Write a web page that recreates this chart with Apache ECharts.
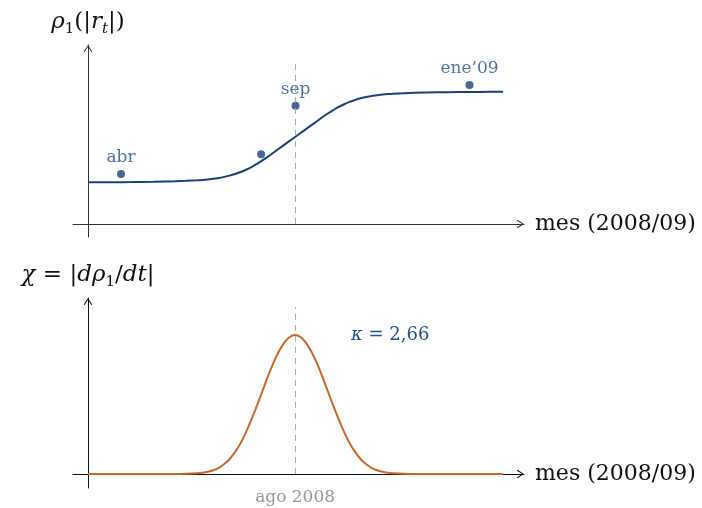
<!DOCTYPE html>
<html>
<head>
<meta charset="utf-8">
<script src="https://cdn.jsdelivr.net/npm/echarts@6/dist/echarts.min.js"></script>
<style>html,body{margin:0;padding:0;background:#fff}#c{width:702px;height:508px}</style>
</head>
<body>
<div id="c"></div>
<script>
// shared time grid (schematic months)
const T = [0, 0.5, 1, 1.5, 2, 2.25,
  2.5, 2.625, 2.75, 2.875, 3, 3.125, 3.25, 3.375, 3.5, 3.625, 3.75, 3.875, 4, 4.125, 4.25, 4.375, 4.5, 4.625,
  4.75, 4.875, 5, 5.125, 5.25, 5.375, 5.5, 5.625, 5.75, 5.875, 6, 6.125, 6.25, 6.375, 6.5, 6.625, 6.75, 6.875, 7,
  7.25, 7.5, 8, 8.5, 9, 9.52];
// rho_1(|r_t|) curve
const rho = [0.233, 0.233, 0.234, 0.236, 0.239, 0.241,
  0.244, 0.246, 0.249, 0.253, 0.257, 0.263, 0.270, 0.279, 0.290, 0.303, 0.318, 0.336, 0.355, 0.376, 0.398, 0.420, 0.442, 0.464,
  0.486, 0.508, 0.530, 0.552, 0.574, 0.596, 0.617, 0.636, 0.654, 0.669, 0.682, 0.693, 0.702, 0.709, 0.715, 0.719, 0.723, 0.726, 0.728,
  0.731, 0.733, 0.736, 0.737, 0.738, 0.739];
// chi = |d rho / dt|
const chi = [0, 0, 0, 0, 0, 0.001,
  0.004, 0.007, 0.012, 0.021, 0.035, 0.056, 0.085, 0.125, 0.175, 0.238, 0.310, 0.388, 0.470, 0.553, 0.630, 0.695, 0.745, 0.778,
  0.790, 0.778, 0.745, 0.695, 0.630, 0.553, 0.470, 0.388, 0.310, 0.238, 0.175, 0.125, 0.085, 0.056, 0.035, 0.021, 0.012, 0.007, 0.004,
  0.001, 0, 0, 0, 0, 0];
// observed points
const ptLabels = ['abr', '', 'sep', 'ene\u201909'];
const ptX = [0.757, 3.97, 4.76, 8.75];
const ptY = [0.279, 0.389, 0.661, 0.777];
// event
const eventX = 4.75;
const eventLabel = 'ago 2008';
const kappaText = '2,66';
const kappaPos = [6.93, 0.79];

const SERIF = 'DejaVu Serif';
const BLUE = '#1b4275';
const LBLUE = '#24508c';
const ORANGE = '#c8692b';
const arrowPath = 'path://M0,9 L6,0 L12,9 L10.6,9.8 L6,2.6 L1.4,9.8 Z';

function axisLineCfg(color) {
  return {show: true, onZero: true, symbol: ['none', arrowPath], symbolSize: [11, 7], symbolOffset: [0, -3.5],
          lineStyle: {color: color, width: 1}};
}
const richMath = {
  i: {fontFamily: SERIF, fontStyle: 'italic', fontSize: 23, color: '#111', lineHeight: 30},
  n: {fontFamily: SERIF, fontSize: 23, color: '#111', lineHeight: 30},
  s: {fontFamily: SERIF, fontSize: 15, color: '#111', lineHeight: 30, verticalAlign: 'bottom'},
  si: {fontFamily: SERIF, fontStyle: 'italic', fontSize: 15, color: '#111', lineHeight: 30, verticalAlign: 'bottom'}
};

const chart = echarts.init(document.getElementById('c'));
chart.setOption({
  animation: false,
  backgroundColor: '#fff',
  grid: [
    {left: 73, right: 178, top: 45, bottom: 271, containLabel: false, outerBoundsMode: 'none'},
    {left: 73, right: 178, top: 298, bottom: 20, containLabel: false, outerBoundsMode: 'none'}
  ],
  xAxis: [
    {gridIndex: 0, type: 'value', min: -0.344, max: 10, axisLine: axisLineCfg('#333'),
     axisTick: {show: false}, axisLabel: {show: false}, splitLine: {show: false},
     name: 'mes (2008/09)', nameLocation: 'end', nameGap: 11,
     nameTextStyle: {fontFamily: SERIF, fontSize: 22, color: '#111', verticalAlign: 'middle'}},
    {gridIndex: 1, type: 'value', min: -0.344, max: 10, axisLine: axisLineCfg('#111'),
     axisTick: {show: true, inside: true, length: 6, customValues: [eventX], lineStyle: {color: '#999'}},
     axisLabel: {show: true, customValues: [eventX], formatter: () => eventLabel, margin: 1,
                 fontFamily: SERIF, fontSize: 17, color: '#999'},
     splitLine: {show: false},
     name: 'mes (2008/09)', nameLocation: 'end', nameGap: 11,
     nameTextStyle: {fontFamily: SERIF, fontSize: 22, color: '#111', verticalAlign: 'middle'}}
  ],
  yAxis: [
    {gridIndex: 0, type: 'value', min: -0.073, max: 1, axisLine: axisLineCfg('#333'),
     axisTick: {show: false}, axisLabel: {show: false}, splitLine: {show: false},
     name: '{i|\u03c1}{s|1}{n|(|}{i|r}{si|t}{n||)}', nameLocation: 'end', nameGap: 8,
     nameTextStyle: {rich: richMath}},
    {gridIndex: 1, type: 'value', min: -0.08, max: 1, axisLine: axisLineCfg('#111'),
     axisTick: {show: false}, axisLabel: {show: false}, splitLine: {show: false},
     name: '{i|\u03c7}{n| = |}{i|d\u03c1}{s|1}{n|/}{i|dt}{n||}', nameLocation: 'end', nameGap: 8,
     nameTextStyle: {rich: richMath}}
  ],
  series: [
    {type: 'line', xAxisIndex: 0, yAxisIndex: 0, data: T.map((t, i) => [t, rho[i]]),
     smooth: 0.3, showSymbol: false, lineStyle: {color: BLUE, width: 2}, z: 3,
     markLine: {silent: true, symbol: 'none', label: {show: false},
       lineStyle: {color: '#aaa', type: [6, 5], width: 1},
       data: [[{coord: [eventX, 0]}, {coord: [eventX, 0.894]}]]}},
    {type: 'scatter', xAxisIndex: 0, yAxisIndex: 0, data: ptX.map((x, i) => [x, ptY[i]]),
     symbolSize: 8, itemStyle: {color: BLUE}, z: 4,
     label: {show: true, position: 'top', distance: 4, formatter: p => ptLabels[p.dataIndex],
             fontFamily: SERIF, fontSize: 17, color: LBLUE}},
    {type: 'line', xAxisIndex: 1, yAxisIndex: 1, data: T.map((t, i) => [t, chi[i]]),
     smooth: 0.3, showSymbol: false, lineStyle: {color: ORANGE, width: 2}, z: 3,
     markLine: {silent: true, symbol: 'none', label: {show: false},
       lineStyle: {color: '#aaa', type: [6, 5], width: 1},
       data: [[{coord: [eventX, 0]}, {coord: [eventX, 0.949]}]]},
     markPoint: {silent: true, symbol: 'circle', symbolSize: 0,
       data: [{coord: kappaPos, value: 0}],
       label: {show: true, position: 'inside', formatter: '{k|\u03ba}{t| = ' + kappaText + '}',
         rich: {k: {fontFamily: SERIF, fontStyle: 'italic', fontSize: 18, color: LBLUE},
                t: {fontFamily: SERIF, fontSize: 18, color: LBLUE}}}}}
  ]
});
</script>
</body>
</html>
